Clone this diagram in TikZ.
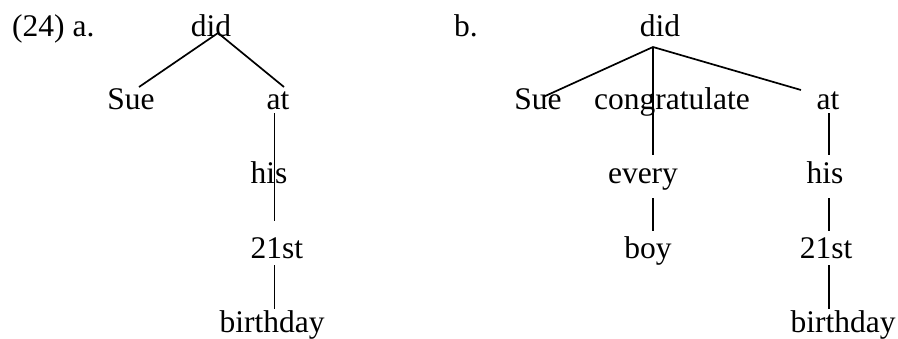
\documentclass[tikz,border=0pt]{standalone}
\usepackage{fontspec}
\setmainfont{Liberation Serif}
\begin{document}
\begin{tikzpicture}[x=1pt,y=-1pt,
  word/.style={anchor=base,inner sep=0pt,font=\fontsize{31.5}{36}\selectfont},
  edge/.style={line width=1.7pt}]
\useasboundingbox (0,0) rectangle (898,338);
% labels
\node[word,anchor=base west] (lab) at (12,36) {(24) a.};
\node[word,anchor=base west] (labb) at (454,36) {b.};
% tree a
\node[word] (aDid) at (211,36) {did};
\node[word] (aSue) at (131,109) {Sue};
\node[word] (aAt) at (278,109) {at};
\node[word] (aHis) at (269,183) {his};
\node[word] (a21) at (277,258) {21st};
\node[word] (aBday) at (272,332) {birthday};
\coordinate (aTop) at (218,33);
\coordinate (aSueT) at (139,87);
\coordinate (aAtT) at (284,87);
\coordinate (aAtB) at (274.5,113);
\coordinate (aHisB) at (274.5,221);
\coordinate (a21B) at (274.5,265);
\coordinate (aBdayT) at (274.5,309);
\draw[edge] (aSueT) -- (aTop) -- (aAtT);
\draw[edge] (aAtB) -- (aHisB);
\draw[edge] (a21B) -- (aBdayT);
% tree b
\node[word] (bDid) at (660,36) {did};
\node[word] (bSue) at (538,109) {Sue};
\node[word] (bCong) at (672,109) {congratulate};
\node[word] (bAt) at (828,109) {at};
\node[word] (bEvery) at (643,183) {every};
\node[word] (bHis) at (825,183) {his};
\node[word] (bBoy) at (648,258) {boy};
\node[word] (b21) at (826,258) {21st};
\node[word] (bBday) at (843,332) {birthday};
\coordinate (bTop) at (653,47);
\coordinate (bSueT) at (543,97);
\coordinate (bCongB) at (653,155);
\coordinate (bAtT) at (801,90);
\coordinate (bAtB) at (829,113);
\coordinate (bHisT) at (829,155);
\coordinate (bEveryB) at (653,198);
\coordinate (bBoyT) at (653,231);
\coordinate (bHisB) at (829,198);
\coordinate (b21T) at (829,231);
\coordinate (b21B) at (829,265);
\coordinate (bBdayT) at (829,309);
\draw[edge] (bSueT) -- (bTop) -- (bAtT);
\draw[edge] (bTop) -- (bCongB);
\draw[edge] (bAtB) -- (bHisT);
\draw[edge] (bEveryB) -- (bBoyT);
\draw[edge] (bHisB) -- (b21T);
\draw[edge] (b21B) -- (bBdayT);
\end{tikzpicture}
\end{document}
